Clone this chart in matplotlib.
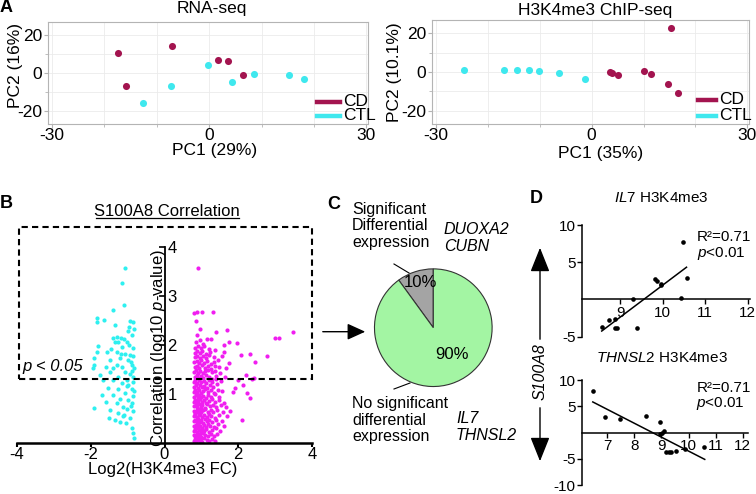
import numpy as np
import matplotlib
matplotlib.use("Agg")
import matplotlib.pyplot as plt
from matplotlib.lines import Line2D
from matplotlib.patches import FancyArrowPatch
from matplotlib.ticker import MultipleLocator

plt.rcParams["font.family"] = ["Liberation Sans", "DejaVu Sans"]
plt.rcParams["mathtext.fontset"] = "custom"
plt.rcParams["mathtext.rm"] = "Liberation Sans"
plt.rcParams["mathtext.it"] = "Liberation Sans:italic"
plt.rcParams["axes.unicode_minus"] = False

W, H = 756, 494

# ---- Panel A: PCA ----
rna_cd_x = [-17.4, -7.0, -15.9, 1.8, 3.6, 6.5]
rna_cd_y = [10.4, 14.4, -7.0, 7.0, 6.6, -1.0]
rna_ctl_x = [-12.5, -7.3, -0.2, 4.4, 8.5, 15.2, 18.1]
rna_ctl_y = [-15.7, -7.0, 4.0, -5.0, -0.7, -1.0, -3.3]

chip_cd_x = [3.5, 3.9, 5.0, 10.1, 11.5, 15.3, 14.8, 16.6]
chip_cd_y = [0.0, -0.6, -1.7, 0.5, -1.2, 22.8, -6.2, -10.9]
chip_ctl_x = [-24.5, -16.8, -14.3, -12.1, -10.1, -6.3, -1.3]
chip_ctl_y = [0.9, 0.9, 1.2, 0.8, 0.3, -0.6, -3.8]

groups = ["CD", "CTL"]

# ---- Panel B: S100A8 correlation ----
down_x = [-1.06, -1.14, -1.10, -1.41, -1.84, -1.82, -1.64, -0.94, -0.85, -0.96,
          -0.83, -1.00, -0.89, -1.39, -1.28, -1.19, -1.10, -1.25, -1.34, -1.03,
          -0.96, -1.80, -1.16, -0.86, -1.82, -1.57, -1.30, -1.07, -0.94, -0.85,
          -1.92, -1.48, -1.21, -0.98, -1.91, -1.95, -1.59, -1.39, -1.28, -1.14,
          -0.89, -0.82, -1.48, -1.07, -0.94, -1.25, -0.86, -1.66, -1.39, -1.03,
          -0.85, -1.16, -0.98, -1.52, -1.25, -0.89, -1.07, -1.39, -0.85, -1.21,
          -0.98, -1.59, -1.30, -0.89, -1.12, -1.92, -1.48, -1.03, -0.85, -1.25,
          -1.10, -1.50, -1.34, -1.21, -0.94, -1.05, -0.89, -0.86, -0.83, -1.75,
          -1.70, -1.35, -0.92, -1.18, -0.87, -1.02, -1.44, -0.90, -1.13, -0.84]
down_y = [3.56, 3.25, 2.80, 2.71, 2.55, 2.47, 2.50, 2.48, 2.46, 2.37,
          2.32, 2.27, 2.20, 2.14, 2.16, 2.14, 2.12, 2.06, 2.05, 2.06,
          1.99, 1.98, 1.96, 1.93, 1.86, 1.86, 1.86, 1.82, 1.79, 1.76,
          1.72, 1.69, 1.72, 1.69, 1.59, 1.53, 1.55, 1.53, 1.59, 1.55,
          1.59, 1.53, 1.45, 1.45, 1.41, 1.35, 1.35, 1.28, 1.28, 1.28,
          1.24, 1.21, 1.18, 1.11, 1.10, 1.10, 1.01, 0.97, 0.96, 0.90,
          0.87, 0.84, 0.80, 0.80, 0.73, 0.71, 0.67, 0.69, 0.65, 0.60,
          0.56, 0.50, 0.46, 0.43, 0.50, 0.41, 0.29, 0.19, 0.09, 1.38,
          0.97, 2.40, 1.64, 1.80, 1.47, 1.15, 1.92, 0.74, 0.55, 1.05]

up_pts = [
    (0.80, 0.03), (0.83, 0.08), (0.86, 0.02), (0.89, 0.06), (0.92, 0.10), (0.95, 0.04),
    (0.99, 0.07), (1.03, 0.02), (1.08, 0.09), (1.14, 0.05), (1.21, 0.03), (1.29, 0.08),
    (1.36, 0.04),
    (0.81, 0.16), (0.84, 0.13), (0.88, 0.18), (0.91, 0.14), (0.96, 0.17), (1.00, 0.12),
    (1.05, 0.19), (1.11, 0.15), (1.18, 0.13), (1.26, 0.18), (1.34, 0.14), (1.42, 0.17),
    (0.80, 0.24), (0.83, 0.27), (0.87, 0.22), (0.90, 0.29), (0.94, 0.25), (0.98, 0.21),
    (1.02, 0.28), (1.07, 0.24), (1.13, 0.27), (1.20, 0.22), (1.28, 0.26), (1.39, 0.29),
    (1.50, 0.23),
    (0.81, 0.34), (0.85, 0.37), (0.88, 0.32), (0.92, 0.38), (0.97, 0.34), (1.01, 0.31),
    (1.06, 0.37), (1.12, 0.33), (1.17, 0.39), (1.24, 0.35), (1.33, 0.32), (1.45, 0.38),
    (1.62, 0.35),
    (0.80, 0.44), (0.84, 0.47), (0.87, 0.42), (0.91, 0.48), (0.95, 0.43), (1.00, 0.46),
    (1.04, 0.41), (1.10, 0.48), (1.16, 0.44), (1.22, 0.47), (1.30, 0.42), (1.41, 0.46),
    (1.55, 0.44), (2.10, 0.46),
    (0.81, 0.54), (0.84, 0.58), (0.88, 0.52), (0.93, 0.56), (0.97, 0.59), (1.02, 0.53),
    (1.08, 0.57), (1.14, 0.52), (1.20, 0.58), (1.27, 0.55), (1.36, 0.51), (1.48, 0.57),
    (1.70, 0.54),
    (0.80, 0.64), (0.83, 0.61), (0.87, 0.67), (0.90, 0.63), (0.95, 0.68), (0.99, 0.62),
    (1.05, 0.66), (1.11, 0.69), (1.18, 0.63), (1.25, 0.67), (1.32, 0.62), (1.43, 0.66),
    (1.58, 0.63), (1.78, 0.64),
    (0.81, 0.74), (0.85, 0.77), (0.89, 0.72), (0.93, 0.78), (0.98, 0.73), (1.03, 0.76),
    (1.09, 0.71), (1.15, 0.78), (1.23, 0.74), (1.31, 0.77), (1.40, 0.72), (1.52, 0.76),
    (1.66, 0.73),
    (0.80, 0.84), (0.84, 0.88), (0.88, 0.82), (0.92, 0.86), (0.96, 0.89), (1.01, 0.83),
    (1.07, 0.87), (1.13, 0.81), (1.21, 0.86), (1.29, 0.89), (1.38, 0.84), (1.49, 0.87),
    (1.60, 0.82), (2.31, 0.92),
    (0.81, 0.94), (0.85, 0.97), (0.90, 0.92), (0.94, 0.98), (1.00, 0.93), (1.05, 0.96),
    (1.12, 0.91), (1.19, 0.97), (1.27, 0.94), (1.36, 0.99), (1.47, 0.93), (1.87, 1.04),
    (2.23, 1.01),
    (0.80, 1.04), (0.84, 1.08), (0.89, 1.03), (0.93, 1.07), (0.98, 1.02), (1.04, 1.06),
    (1.10, 1.09), (1.17, 1.03), (1.25, 1.07), (1.34, 1.02), (1.44, 1.08), (1.56, 1.05),
    (0.81, 1.14), (0.86, 1.17), (0.90, 1.12), (0.95, 1.18), (1.01, 1.13), (1.08, 1.16),
    (1.15, 1.11), (1.23, 1.17), (1.32, 1.14), (1.42, 1.19), (1.92, 1.11), (2.14, 1.18),
    (0.80, 1.24), (0.84, 1.27), (0.89, 1.22), (0.94, 1.28), (1.00, 1.23), (1.06, 1.26),
    (1.13, 1.21), (1.21, 1.27), (1.30, 1.24), (1.40, 1.29), (1.52, 1.25), (2.00, 1.28),
    (0.82, 1.34), (0.87, 1.38), (0.92, 1.32), (0.98, 1.37), (1.05, 1.33), (1.12, 1.39),
    (1.20, 1.35), (1.29, 1.31), (1.39, 1.36), (1.63, 1.34), (2.37, 1.30), (2.43, 1.33),
    (2.21, 1.38),
    (0.81, 1.44), (0.86, 1.48), (0.91, 1.43), (0.97, 1.47), (1.04, 1.42), (1.11, 1.46),
    (1.19, 1.49), (1.28, 1.44), (1.38, 1.47), (1.50, 1.42),
    (0.82, 1.54), (0.88, 1.57), (0.94, 1.52), (1.01, 1.58), (1.09, 1.53), (1.17, 1.56),
    (1.26, 1.51), (1.36, 1.57), (1.48, 1.54), (1.68, 1.52),
    (0.81, 1.64), (0.87, 1.67), (0.93, 1.62), (1.00, 1.68), (1.08, 1.63), (1.16, 1.66),
    (1.25, 1.61), (1.35, 1.65), (1.46, 1.68), (2.46, 1.65), (1.75, 1.62),
    (0.83, 1.74), (0.89, 1.77), (0.96, 1.72), (1.04, 1.76), (1.13, 1.73), (1.22, 1.78),
    (1.33, 1.74), (2.07, 1.79), (2.32, 1.82), (2.78, 1.77), (1.55, 1.76),
    (0.82, 1.84), (0.88, 1.88), (0.95, 1.83), (1.03, 1.87), (1.12, 1.82), (1.24, 1.86),
    (1.38, 1.89), (1.60, 1.85),
    (0.84, 1.94), (0.91, 1.98), (0.99, 1.93), (1.08, 1.97), (1.20, 1.92), (1.62, 2.00),
    (1.96, 2.04),
    (0.86, 2.06), (0.97, 2.10), (1.15, 2.12), (1.26, 2.12), (1.76, 2.05), (2.99, 2.14),
    (3.10, 2.14), (1.05, 2.02),
    (0.88, 2.20), (1.69, 2.29), (3.48, 2.25), (0.86, 2.48), (0.81, 2.64), (0.89, 2.67),
    (1.01, 2.66), (1.31, 2.66), (0.92, 3.56), (0.95, 2.32), (1.40, 2.25),
]
up_x = [p[0] for p in up_pts]
up_y = [p[1] for p in up_pts]

# ---- Panel C: pie ----
pie_vals = [10, 90]
pie_labels = ["10%", "90%"]

# ---- Panel D: gene scatter ----
il7_x = [10.47, 10.58, 9.82, 9.86, 9.95, 9.97, 10.42, 9.31, 8.57, 8.75, 8.88, 8.92, 8.88, 9.39]
il7_y = [7.72, 2.90, 2.77, 2.46, 2.10, 2.00, 0.13, 0.0, -3.7, -2.8, -2.68, -3.8, -3.88, -3.88]
il7_fit_x = [8.57, 10.56]
il7_fit_y = [-4.24, 4.33]

thn_x = [6.46, 6.91, 7.47, 8.44, 8.96, 8.93, 9.02, 9.08, 9.18, 9.26, 9.36, 9.55, 9.86, 10.57]
thn_y = [7.88, 2.89, 2.57, 3.08, 2.06, -0.24, 0.0, 0.26, -3.75, -3.75, -3.75, -3.56, -3.19, -2.81]
thn_fit_x = [6.46, 10.6]
thn_fit_y = [5.82, -5.12]

CD_COL = "#a3144f"
CTL_COL = "#3fe8ee"
CYAN = "#2ef0f0"
MAGENTA = "#f01ef0"


def rect(l, t, r, b):
    return [l / W, 1 - b / H, (r - l) / W, (b - t) / H]


def fx(x):
    return x / W


def fy(y):
    return 1 - y / H


fig = plt.figure(figsize=(W / 100, H / 100), dpi=100)


def pca_panel(pos, cdx, cdy, ctlx, ctly, title, tpos, xlab, xpos, ylab, ypos, leg):
    ax = fig.add_axes(pos)
    ax.scatter(cdx, cdy, s=26, color=CD_COL, lw=0, zorder=3)
    ax.scatter(ctlx, ctly, s=26, color=CTL_COL, lw=0, zorder=3)
    ax.set_xlim(-30.7, 30.3)
    ax.set_ylim(-27, 27)
    ax.set_xticks([-30, 0, 30])
    ax.set_yticks([-20, 0, 20])
    ax.xaxis.set_minor_locator(MultipleLocator(10))
    ax.yaxis.set_minor_locator(MultipleLocator(10))
    ax.grid(True, which="both", color="#ebebeb", lw=0.6)
    ax.set_axisbelow(True)
    for sp in ax.spines.values():
        sp.set_color("#b4b4b4")
        sp.set_linewidth(0.8)
    ax.tick_params(which="major", length=3, color="#b4b4b4", labelsize=12.5, pad=1)
    ax.tick_params(axis="x", which="major", pad=0)
    ax.tick_params(which="minor", length=2, color="#b4b4b4")
    fig.text(fx(tpos[0]), fy(tpos[1]), title, fontsize=12.5, ha="center", va="center")
    fig.text(fx(xpos[0]), fy(xpos[1]), xlab, fontsize=12.5, ha="center", va="center")
    fig.text(fx(ypos[0]), fy(ypos[1]), ylab, fontsize=12.5, ha="center", va="center",
             rotation=90)
    # legend drawn by hand: coloured bar + label
    lx0, lx1, tx, ys = leg
    for name, col, yy in zip(groups, [CD_COL, CTL_COL], ys):
        fig.add_artist(Line2D([fx(lx0), fx(lx1)], [fy(yy)] * 2, color=col, lw=3.2))
        fig.text(fx(tx), fy(yy), name, fontsize=12.5, ha="left", va="center")
    return ax


pca_panel(rect(48, 22, 368, 124), rna_cd_x, rna_cd_y, rna_ctl_x, rna_ctl_y,
          "RNA-seq", (211.7, 8.5), "PC1 (29%)", (215, 151), "PC2 (16%)", (16, 65),
          (317, 340, 343, (101.7, 115.5)))
pca_panel(rect(432, 20, 749, 124), chip_cd_x, chip_cd_y, chip_ctl_x, chip_ctl_y,
          "H3K4me3 ChIP-seq", (594.7, 10), "PC1 (35%)", (600.7, 153.3),
          "PC2 (10.1%)", (395, 71.7), (698, 716, 719.5, (100, 115.5)))

# Panel B
axb = fig.add_axes(rect(17, 442.7 - 4.5 * 49, 312, 442.7))
axb.scatter(down_x, down_y, s=9, color=CYAN, lw=0)
axb.scatter(up_x, up_y, s=9, color=MAGENTA, lw=0)
axb.set_xlim(-4, 4)
axb.set_ylim(0, 4.5)
axb.spines["top"].set_visible(False)
axb.spines["left"].set_visible(False)
axb.spines["right"].set_position(("data", 0))
axb.spines["right"].set_bounds(0, 4)
axb.spines["bottom"].set_bounds(-4, 4)
axb.spines["right"].set_linewidth(1.3)
axb.spines["bottom"].set_linewidth(1.8)
axb.yaxis.tick_right()
axb.set_yticks([1, 2, 3, 4])
axb.set_xticks([-4, -2, 0, 2, 4])
axb.tick_params(axis="y", direction="in", length=4, width=1.2, labelsize=12, pad=2)
axb.tick_params(axis="x", direction="out", length=3, width=1.5, labelsize=12, pad=0)
fig.text(fx(163), fy(469.5), "Log2(H3K4me3 FC)", fontsize=12, ha="center", va="center")
axb.text(-0.15, 1.93, "Correlation (log10 $p$-value)", rotation=90, ha="center",
         va="center", fontsize=12)
axb.add_patch(plt.Rectangle((-3.95, 1.31), 7.95, 3.1, fill=False, ls=(0, (3, 2)),
                            lw=1.5, color="k", clip_on=False))
axb.text(-3.85, 1.55, "p < 0.05", fontsize=12, style="italic", ha="left", va="center")
fig.text(fx(167.3), fy(211.7), "S100A8 Correlation", fontsize=12, ha="center", va="center")
fig.add_artist(Line2D([fx(95.7), fx(239.3)], [fy(218)] * 2, color="k", lw=0.9))

# arrow from B to C
fig.add_artist(FancyArrowPatch(
    (fx(320), fy(331.7)), (fx(368), fy(331.7)), transform=fig.transFigure,
    arrowstyle="-|>,head_length=1.1,head_width=0.5", mutation_scale=10, color="k", lw=1))

# Panel C
axc = fig.add_axes(rect(373.3, 267.7, 493.3, 387.7))
axc.pie(pie_vals, colors=["#a4a4a4", "#a3f5a3"], startangle=90, counterclock=True,
        radius=1, wedgeprops=dict(edgecolor="#333333", lw=0.8))
axc.set_xlim(-1.02, 1.02)
axc.set_ylim(-1.02, 1.02)
axc.set_aspect("equal")
axc.axis("off")
axc.text(-0.22, 0.76, pie_labels[0], fontsize=12, ha="center", va="center")
axc.text(0.31, -0.455, pie_labels[1], fontsize=12, ha="center", va="center")

fig.text(fx(352), fy(226), "Significant\nDifferential\nexpression", fontsize=11.5,
         ha="left", va="center", linespacing=1.15)
fig.text(fx(352), fy(420), "No significant\ndifferential\nexpression", fontsize=11.5,
         ha="left", va="center", linespacing=1.15)
fig.text(fx(444), fy(238), "DUOXA2\nCUBN", fontsize=11.5, style="italic",
         ha="left", va="center", linespacing=1.15)
fig.text(fx(456), fy(427), "IL7\nTHNSL2", fontsize=11.5, style="italic",
         ha="left", va="center", linespacing=1.15)
fig.add_artist(Line2D([fx(394), fx(409)], [fy(264), fy(273)], color="k", lw=0.8))
fig.add_artist(Line2D([fx(394), fx(410)], [fy(389), fy(383)], color="k", lw=0.8))


# Panel D
def gene_panel(pos, xs, ys, fitx, fity, xlim, ylim, yticks, xticks,
               title, tpos, stat_x, stat_y):
    ax = fig.add_axes(pos)
    ax.scatter(xs, ys, s=11, color="k", lw=0, zorder=3)
    ax.plot(fitx, fity, color="k", lw=1.1)
    ax.set_xlim(*xlim)
    ax.set_ylim(*ylim)
    ax.spines["top"].set_visible(False)
    ax.spines["right"].set_visible(False)
    ax.spines["bottom"].set_position(("data", 0))
    ax.spines["left"].set_bounds(*ylim)
    for sp in ("left", "bottom"):
        ax.spines[sp].set_linewidth(1.1)
    ax.set_yticks(yticks)
    ax.set_xticks(xticks)
    ax.tick_params(direction="out", length=3.5, width=1.0, labelsize=11, pad=1)
    fig.text(fx(tpos[0]), fy(tpos[1]), title, fontsize=11, ha="center", va="center")
    ax.text(stat_x, stat_y[0], "R²=0.71", transform=ax.transAxes, fontsize=11,
            ha="left", va="center")
    ax.text(stat_x, stat_y[1], "$p$<0.01", transform=ax.transAxes, fontsize=11,
            ha="left", va="center")
    return ax


gene_panel(rect(581.7, 225, 750, 336.7), il7_x, il7_y, il7_fit_x, il7_fit_y,
           (8.1, 12.05), (-5, 10), [-5, 5, 10], [9, 10, 11, 12],
           r"$\mathit{IL7}$ H3K4me3", (661.7, 198.3), 0.683, (0.89, 0.747))
gene_panel(rect(581.7, 380, 748, 485), thn_x, thn_y, thn_fit_x, thn_fit_y,
           (6.05, 12.2), (-10, 10), [-10, -5, 5, 10], [7, 8, 9, 10, 11, 12],
           r"$\mathit{THNSL2}$ H3K4me3", (661.7, 358.3), 0.69, (0.928, 0.78))

fig.text(fx(540), fy(372), "S100A8", rotation=90, style="italic", fontsize=11.5,
         ha="center", va="center")
for y0, y1 in ((342, 245), (405, 464)):
    fig.add_artist(FancyArrowPatch(
        (fx(540), fy(y0)), (fx(540), fy(y1)), transform=fig.transFigure,
        arrowstyle="-|>,head_length=1.5,head_width=0.6", mutation_scale=10,
        color="k", lw=1))

# panel letters
for lab, x, y in (("A", 6.5, 8), ("B", 6.5, 203.5), ("C", 334, 204), ("D", 536, 198.5)):
    fig.text(fx(x), fy(y), lab, fontsize=13, fontweight="bold", ha="center", va="center")

fig.savefig("out.png", dpi=100)
